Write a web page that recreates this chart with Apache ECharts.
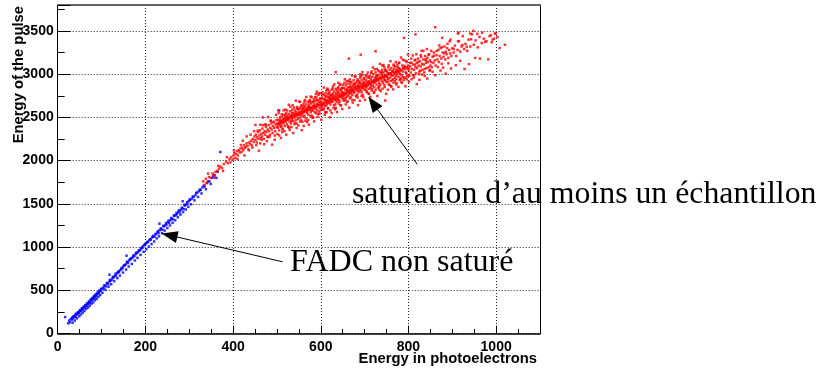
<!DOCTYPE html>
<html>
<head>
<meta charset="utf-8">
<script src="https://cdn.jsdelivr.net/npm/echarts@6/dist/echarts.min.js"></script>
<style>
html,body{margin:0;padding:0;background:#fff;}
#c{width:821px;height:370px;}
</style>
</head>
<body>
<div id="c"></div>
<script>
const xTitle = "Energy in photoelectrons";
const yTitle = "Energy of the pulse";
const noteSat = "saturation d\u2019au moins un \u00e9chantillon";
const noteFadc = "FADC non satur\u00e9";

// Non-saturated FADC events (blue)
const blueMain = [
[17,190],[24,118],[26,150],[28,130],[30,170],[32,160],[33,185],[35,175],[36,195],[38,200],[40,215],[41,190],[43,230],[45,220],[47,245],[48,235],[50,255],[52,270],[54,260],[56,290],[58,280],[60,305],[62,300],[64,325],[66,320],[68,345],[70,340],[72,365],[74,355],[76,380],[78,390],[80,400],[82,420],[84,410],[86,440],[88,430],[90,455],[92,465],[94,470],[96,495],[98,490],[100,515],
[103,530],[105,520],[108,555],[110,545],[113,580],[115,570],[118,600],[118,680],[120,610],[123,620],[125,640],[128,650],[130,665],[133,670],[135,700],[138,705],[140,715],[143,735],[145,745],[148,755],[150,780],[153,790],[155,800],[157,900],[158,830],[160,815],[163,845],[165,860],[168,870],[170,875],[173,905],[175,895],[178,920],[180,935],[183,940],[185,960],[188,965],[190,985],[193,990],[195,1010],[198,1025],[200,1035],
[203,1050],[206,1060],[209,1080],[212,1085],[215,1110],[218,1130],[221,1120],[224,1150],[227,1170],[230,1160],[232,1270],[233,1195],[236,1210],[239,1200],[242,1240],[245,1250],[248,1260],[251,1290],[254,1280],[257,1310],[260,1330],[263,1320],[266,1360],[269,1370],[272,1380],[275,1410],[278,1400],[281,1430],[284,1450],[285,1530],[287,1440],[290,1480],[293,1490],[296,1500],[299,1530],
[302,1545],[306,1560],[310,1580],[314,1600],[318,1630],[322,1645],[326,1660],[330,1690],[335,1700],[340,1740],[346,1760],[352,1800],[358,1830],[365,1870],[371,2100],[505,2580]
];
const blueSpread = [
[34,125],[37,200],[39,150],[42,225],[44,175],[46,245],[49,200],[51,270],[53,220],[55,290],[57,240],[59,310],[61,260],[63,330],[65,285],[67,350],[69,300],[71,370],[73,320],[75,395],[77,345],[79,410],[81,360],[83,435],[85,385],[87,455],[89,400],[91,475],[93,425],[95,495],[97,445],[99,515],
[102,470],[106,555],[109,505],[112,585],[116,540],[119,620],[122,570],[126,655],[129,605],[132,690],[136,640],[139,720],[142,670],[146,760],[149,705],[152,790],[156,740],[159,825],[162,775],[166,860],[169,805],[172,890],[176,845],[179,930],[182,875],[186,960],[189,910],[192,995],[196,945],[199,1030],
[202,975],[205,1060],[208,1005],[211,1090],[214,1035],[217,1120],[220,1065],[223,1150],[226,1100],[229,1185],[231,1125],[235,1215],[238,1160],[241,1245],[244,1190],[247,1275],[250,1220],[253,1305],[256,1250],[259,1335],[262,1280],[265,1365],[268,1310],[271,1395],[274,1345],[277,1425],[280,1375],[283,1455],[286,1405],[289,1490],[292,1435],[295,1520],[298,1465],
[301,1550],[304,1495],[308,1585],[312,1540],[316,1625],[320,1580],[324,1665],[328,1620],[333,1710],[338,1670],[343,1760],[349,1730],[355,1820],[362,1800]
];

// Events with at least one saturated sample (red)
const redMain = [
[332,1760],[338,1790],[341,1745],[345,1810],[349,1800],[353,1850],[356,1835],[360,1870],[364,1880],[368,1905],[371,1930],[375,1915],[379,1960],[384,1990],[388,1970],[392,2020],[396,2040],[399,2010],
[401,2060],[403,2090],[405,2030],[407,2075],[409,2110],[411,2060],[413,2120],[415,2095],[417,2140],[419,2100],[421,2150],[423,2120],[425,2180],[427,2145],[429,2160],[431,2200],[433,2170],[435,2130],[437,2210],[439,2190],[441,2230],[443,2175],[445,2250],[447,2215],[449,2280],
[451,2240],[452,2300],[454,2210],[455,2270],[457,2330],[458,2250],[460,2290],[461,2350],[463,2260],[464,2310],[466,2280],[467,2370],[469,2320],[470,2250],[472,2340],[473,2300],[475,2390],[476,2330],[478,2280],[479,2360],[481,2410],[482,2340],[484,2300],[485,2380],[487,2430],[488,2360],[490,2320],[491,2400],[493,2450],[494,2380],[496,2340],[497,2420],[499,2470],[500,2390],[486,2460],[474,2420],[462,2200],[495,2290],[468,2410],[480,2270],
[501,2430],[502,2380],[503,2470],[504,2410],[505,2350],[506,2450],[507,2500],[508,2420],[509,2390],[510,2460],[511,2510],[512,2440],[513,2370],[514,2480],[515,2430],[516,2530],[517,2460],[518,2400],[519,2500],[520,2450],[521,2550],[522,2480],[523,2420],[524,2520],[525,2470],[526,2390],[527,2540],[528,2490],[529,2450],[530,2570],[531,2510],[532,2430],[533,2530],[534,2480],[535,2590],[536,2520],[537,2460],[538,2550],[539,2500],[540,2420],[541,2580],[542,2530],[543,2470],[544,2560],[545,2510],[546,2620],[547,2540],[548,2480],[549,2590],[550,2530],[504,2550],[512,2330],[519,2590],[528,2380],[536,2640],[545,2430],[510,2400],[523,2500],[533,2460],[547,2600],
[551,2560],[552,2500],[553,2610],[554,2540],[555,2470],[556,2590],[557,2640],[558,2550],[559,2510],[560,2600],[561,2660],[562,2570],[563,2520],[564,2620],[565,2580],[566,2490],[567,2650],[568,2600],[569,2550],[570,2680],[571,2610],[572,2530],[573,2640],[574,2590],[575,2700],[576,2620],[577,2560],[578,2660],[579,2610],[580,2520],[581,2680],[582,2630],[583,2580],[584,2710],[585,2650],[586,2560],[587,2690],[588,2630],[589,2600],[590,2730],[591,2660],[592,2580],[593,2700],[594,2640],[595,2760],[596,2680],[597,2610],[598,2720],[599,2660],[600,2590],[553,2680],[558,2450],[564,2700],[571,2470],[577,2740],[583,2500],[589,2770],[594,2540],[599,2780],[556,2530],[562,2630],[568,2560],[574,2670],[579,2580],[585,2610],[591,2700],[597,2570],[560,2560],[570,2580],[590,2620],
[601,2680],[602,2620],[603,2730],[604,2660],[605,2590],[606,2710],[607,2760],[608,2670],[609,2630],[610,2720],[611,2780],[612,2690],[613,2640],[614,2740],[615,2700],[616,2610],[617,2770],[618,2720],[619,2670],[620,2800],[621,2730],[622,2650],[623,2760],[624,2710],[625,2820],[626,2740],[627,2680],[628,2780],[629,2730],[630,2640],[631,2800],[632,2750],[633,2700],[634,2830],[635,2770],[636,2680],[637,2810],[638,2750],[639,2720],[640,2850],[641,2780],[642,2700],[643,2820],[644,2760],[645,2880],[646,2800],[647,2730],[648,2840],[649,2780],[650,2710],[604,2790],[610,2560],[616,2820],[622,2580],[628,2860],[634,2610],[640,2900],[646,2640],[603,2640],[609,2700],[615,2660],[621,2700],[627,2760],[633,2650],[639,2790],[645,2740],[649,2840],[607,2600],[613,2810],[619,2740],[625,2680],[631,2720],[637,2700],[643,2680],[648,2760],[612,2560],[634,3023],
[651,2790],[652,2730],[653,2840],[654,2770],[655,2700],[656,2820],[657,2870],[658,2780],[659,2740],[660,2830],[661,2890],[662,2800],[663,2750],[664,2850],[665,2810],[666,2720],[667,2880],[668,2830],[669,2780],[670,2910],[671,2840],[672,2760],[673,2870],[674,2820],[675,2930],[676,2850],[677,2790],[678,2890],[679,2840],[680,2750],[681,2900],[682,2860],[683,2810],[684,2940],[685,2870],[686,2790],[687,2920],[688,2860],[689,2830],[690,2960],[691,2890],[692,2810],[693,2930],[694,2870],[695,2990],[696,2900],[697,2840],[698,2950],[699,2890],[700,2820],[654,2900],[660,2680],[666,2940],[672,2700],[678,2970],[684,2730],[690,3000],[696,2760],[653,2760],[659,2810],[665,2770],[671,2810],[677,2870],[683,2760],[689,2900],[695,2840],[699,2950],[657,2720],[663,2920],[669,2850],[675,2790],[681,2830],[687,2810],[693,2790],[698,2870],[664,3180],[691,3225],
[701,2880],[702,2820],[703,2930],[704,2860],[705,2790],[706,2910],[707,2960],[708,2870],[709,2830],[710,2920],[711,2980],[712,2890],[713,2840],[714,2940],[715,2900],[716,2810],[717,2970],[718,2920],[719,2870],[720,3000],[721,2930],[722,2850],[723,2960],[724,2910],[725,3020],[726,2940],[727,2880],[728,2980],[729,2930],[730,2840],[731,2990],[732,2950],[733,2900],[734,3030],[735,2960],[736,2880],[737,3010],[738,2950],[739,2920],[740,3050],[741,2980],[742,2900],[743,3020],[744,2960],[745,3080],[746,2990],[747,2930],[748,3040],[749,2980],[750,2910],[704,2990],[710,2770],[716,3030],[722,2790],[728,3060],[734,2820],[740,3100],[746,2850],[703,2850],[709,2900],[715,2860],[721,2900],[727,2960],[733,2850],[739,2990],[745,2930],[749,3040],[747,2695],[725,3265],
[751,2970],[752,2910],[753,3010],[754,2950],[755,2880],[756,3000],[757,3050],[758,2960],[759,2920],[760,3010],[761,3070],[762,2980],[763,2930],[764,3030],[765,2990],[766,2900],[767,3060],[768,3010],[769,2960],[770,3090],[771,3020],[772,2940],[773,3050],[774,3000],[775,3110],[776,3030],[777,2970],[778,3070],[779,3020],[780,2930],[782,3040],[784,2990],[786,3100],[788,3030],[790,2960],[792,3080],[794,3020],[796,3140],[798,3060],[800,2990],[754,3080],[760,2860],[766,3110],[772,2880],[778,3130],[784,2910],[790,3160],[796,2940],[753,2940],[759,3000],[765,2940],[771,2980],[777,3040],[783,2950],[789,3070],[795,3010],[799,3100],[781,3000],[787,2970],[793,2960],[790,3420],
[801,3050],[802,2980],[804,3090],[805,3020],[807,3130],[808,3060],[810,2990],[811,3110],[813,3050],[814,3160],[816,3080],[817,3010],[819,3130],[820,3070],[822,3180],[823,3100],[825,3030],[826,3150],[828,3090],[829,3200],[831,3120],[832,3050],[834,3170],[835,3110],[837,3060],[838,3210],[840,3130],[841,3070],[843,3190],[844,3140],[846,3080],[847,3230],[849,3160],[850,3100],[806,3180],[812,2960],[818,3230],[824,3000],[830,3270],[836,3020],[842,3290],[848,3040],[815,3110],[827,3040],[839,3170],[816,3460],
[852,3140],[853,3080],[855,3200],[857,3130],[858,3250],[860,3160],[861,3543],[862,3100],[864,3220],[866,3170],[868,3280],[869,3140],[871,3210],[873,3300],[875,3180],[876,3120],[878,3250],[880,3200],[882,3320],[884,3170],[885,3260],[887,3230],[889,3350],[891,3190],[893,3280],[895,3240],[896,3400],[898,3210],[900,3300],[877,3420],
[903,3250],[906,3330],[909,3210],[912,3280],[913,3470],[914,3480],[915,3380],[918,3260],[921,3320],[924,3440],[927,3290],[930,3350],[934,3270],[937,3400],[941,3470],[941,3320],[945,3460],[948,3500],[949,3340],[953,3390],[958,3310],[962,3430],[967,3360],[968,3480],[972,3410],[978,3380],[985,3440],[990,3370],[992,3400],[995,3410],[997,3470],[999,3470],[1003,3430],[1020,3340]
];
const redCore = [
[502,2420],[505,2430],[508,2440],[511,2460],[514,2450],[517,2480],[520,2470],[523,2490],[526,2480],[529,2500],[532,2510],[535,2500],[538,2530],[541,2520],[544,2540],[547,2530],[550,2550],
[552,2540],[555,2560],[558,2570],[561,2560],[564,2590],[567,2580],[570,2600],[573,2590],[576,2610],[579,2600],[582,2620],[585,2630],[588,2620],[591,2640],[594,2650],[597,2640],[600,2650],
[602,2640],[605,2660],[608,2650],[611,2680],[614,2670],[617,2690],[620,2680],[623,2710],[626,2700],[629,2720],[632,2710],[635,2730],[638,2720],[641,2750],[644,2740],[647,2760],[650,2750],
[652,2760],[655,2780],[658,2770],[661,2800],[664,2790],[667,2810],[670,2800],[673,2820],[676,2810],[679,2840],[682,2830],[685,2850],[688,2840],[691,2860],[694,2850],[697,2870],[700,2860],
[702,2870],[705,2890],[708,2880],[711,2900],[714,2890],[717,2920],[720,2910],[723,2930],[726,2920],[729,2940],[732,2930],[735,2960],[738,2950],[741,2970],[744,2960],[747,2980],[750,2970],
[752,2990],[756,3010],[760,3000],[764,3030],[768,3020],[772,3040],[776,3030],[780,3060],[784,3050],[788,3070],[792,3060],[796,3080],[800,3070]
];
const redHalo = [
[335,1720],[343,1850],[358,1800],[366,1940],[377,1880],[386,2040],[394,1980],[402,2120],[410,2020],[418,2180],
[422,2230],[426,2060],[431,2280],[436,2120],[440,2300],[444,2150],[448,2340],
[451,2413],[453,2178],[456,2347],[459,2115],[462,2414],[465,2242],[468,2500],[471,2189],[474,2412],[477,2226],[480,2504],[483,2277],[486,2461],[489,2184],[492,2443],[495,2241],[498,2529],
[501,2307],[503,2582],[505,2292],[507,2472],[509,2262],[511,2536],[513,2361],[515,2581],[517,2341],[519,2526],[521,2300],[523,2580],[525,2395],[527,2645],[529,2355],[531,2624],[533,2389],[535,2554],[537,2319],[539,2614],[541,2438],[543,2693],[545,2378],[547,2598],[549,2408],
[551,2682],[553,2452],[555,2632],[557,2352],[559,2607],[561,2401],[563,2686],[565,2461],[567,2736],[569,2446],[571,2625],[573,2415],[575,2690],[577,2515],[579,2735],[581,2494],[583,2679],[585,2454],[587,2734],[589,2549],[591,2798],[593,2508],[595,2778],[597,2543],[599,2708],
[601,2472],[603,2767],[605,2591],[607,2845],[609,2530],[611,2749],[613,2559],[615,2833],[617,2602],[619,2782],[621,2501],[623,2756],[625,2550],[627,2834],[629,2609],[631,2883],[633,2593],[635,2772],[637,2561],[639,2836],[641,2660],[643,2880],[645,2639],[647,2823],[649,2598],
[651,2877],[653,2692],[655,2941],[657,2650],[659,2920],[661,2684],[663,2849],[665,2613],[667,2907],[669,2732],[671,2986],[673,2671],[675,2890],[677,2699],[679,2974],[681,2743],[683,2923],[685,2642],[687,2896],[689,2691],[691,2975],[693,2750],[695,3024],[697,2733],[699,2913],
[701,2702],[703,2976],[705,2800],[707,3019],[709,2778],[711,2962],[713,2736],[715,3015],[717,2829],[719,3078],[721,2787],[723,3056],[725,2820],[727,2984],[729,2748],[731,3042],[733,2866],[735,3120],[737,2804],[739,3023],[741,2832],[743,3106],[745,2875],[747,3054],[749,2773],
[751,3027],[753,2820],[755,3103],[757,2876],[759,3149],[761,2858],[763,3036],[765,2824],[767,3097],[769,2920],[771,3139],[773,2897],[775,3080],[777,2853],[779,3131],[781,2945],[783,3193],[785,2901],[787,3169],[789,2932],[791,3096],[793,2859],[795,3152],[797,2975],[799,3228],
[801,2912],[804,3131],[807,2941],[810,3216],[813,2986],[816,3166],[819,2885],[822,3140],[825,2935],[828,3220],[831,2995],[834,3269],[837,2979],[840,3159],[843,2949],[846,3224],[849,3048],
[852,3268],[855,3028],[858,3213],[861,2988],[864,3267],[867,3082],[870,3332],[873,3042],[876,3312],[879,3076],[882,3241],[885,3006],[888,3301],[891,3126],[894,3380],[897,3065],
[903,3290],[908,3103],[913,3381],[918,3154],[923,3337],[928,3060],[933,3318],[938,3116],[943,3404],[952,3188],[957,3466],[963,3181],[975,3375],[982,3171],[988,3451],[1008,3303]
];

// Annotation arrows: [tail, head] in data coordinates
const arrowSat = [[820, 1957], [719, 2665]];
const arrowFadc = [[513, 829], [255, 1137]];

const blueData = blueMain.concat(blueSpread);
const redData = redMain.concat(redCore, redHalo);

const chart = echarts.init(document.getElementById('c'), null, {renderer: 'canvas'});
const bold = {fontFamily: '"Liberation Sans", Arial, sans-serif', fontWeight: 'bold', fontSize: 14, color: '#000'};
const plain = v => String(v);

chart.setOption({
  animation: false,
  grid: {left: 57.7, right: 281, top: 5, bottom: 36.5, containLabel: false},
  xAxis: [{
    type: 'value', min: 0, max: 1100, interval: 200, position: 'bottom',
    axisLine: {show: true, onZero: false, lineStyle: {color: '#000', width: 1.5}},
    axisTick: {show: true, inside: true, length: 8, lineStyle: {color: '#000', width: 1}},
    minorTick: {show: true, splitNumber: 4, length: 4.5, lineStyle: {color: '#000', width: 1}},
    axisLabel: Object.assign({margin: 7, showMaxLabel: false, formatter: plain}, bold),
    splitLine: {show: true, lineStyle: {color: '#222', width: 1, type: [1, 2]}}
  }, {
    type: 'value', min: 0, max: 1100, interval: 200, position: 'top',
    axisLine: {show: true, onZero: false, lineStyle: {color: '#666', width: 2}},
    axisTick: {show: false}, axisLabel: {show: false}, splitLine: {show: false}
  }],
  yAxis: [{
    type: 'value', min: 0, max: 3800, interval: 500, position: 'left',
    axisLine: {show: true, onZero: false, lineStyle: {color: '#000', width: 1}},
    axisTick: {show: true, inside: true, length: 13, lineStyle: {color: '#000', width: 1}},
    minorTick: {show: true, splitNumber: 2, length: 7, lineStyle: {color: '#000', width: 1}},
    axisLabel: Object.assign({margin: 4, showMaxLabel: false, formatter: plain}, bold),
    splitLine: {show: true, lineStyle: {color: '#222', width: 1, type: [1, 2]}}
  }, {
    type: 'value', min: 0, max: 3800, interval: 500, position: 'right',
    axisLine: {show: true, onZero: false, lineStyle: {color: '#000', width: 1}},
    axisTick: {show: false}, axisLabel: {show: false}, splitLine: {show: false}
  }],
  series: [{
    name: 'non saturé', type: 'scatter', data: blueData,
    symbol: 'rect', symbolSize: 2.5,
    itemStyle: {color: '#0000ff'}, silent: true
  }, {
    name: 'saturé', type: 'scatter', data: redData,
    symbol: 'rect', symbolSize: 2.5,
    itemStyle: {color: '#ff0000'}, silent: true,
    markLine: {
      silent: true, animation: false,
      symbol: ['none', 'triangle'], symbolSize: [12, 16],
      label: {show: false},
      lineStyle: {color: '#000', width: 1, type: 'solid'},
      itemStyle: {color: '#000'},
      data: [
        [{coord: arrowSat[0]}, {coord: arrowSat[1]}],
        [{coord: arrowFadc[0]}, {coord: arrowFadc[1]}]
      ]
    }
  }],
  graphic: [
    {type: 'text', x: 18.5, y: 6, rotation: Math.PI / 2,
     style: {text: yTitle, textAlign: 'right', textVerticalAlign: 'middle',
             font: 'bold 14.8px "Liberation Sans", Arial, sans-serif', fill: '#000'}},
    {type: 'text', x: 537, y: 359,
     style: {text: xTitle, textAlign: 'right', textVerticalAlign: 'middle',
             font: 'bold 14.8px "Liberation Sans", Arial, sans-serif', fill: '#000'}},
    {type: 'text', x: 352, y: 211,
     style: {text: noteSat, textAlign: 'left', textVerticalAlign: 'bottom',
             font: '31.8px "Liberation Serif", "DejaVu Serif", serif', fill: '#000'}},
    {type: 'text', x: 290, y: 279,
     style: {text: noteFadc, textAlign: 'left', textVerticalAlign: 'bottom',
             font: '32px "Liberation Serif", "DejaVu Serif", serif', fill: '#000'}}
  ]
});
</script>
</body>
</html>
